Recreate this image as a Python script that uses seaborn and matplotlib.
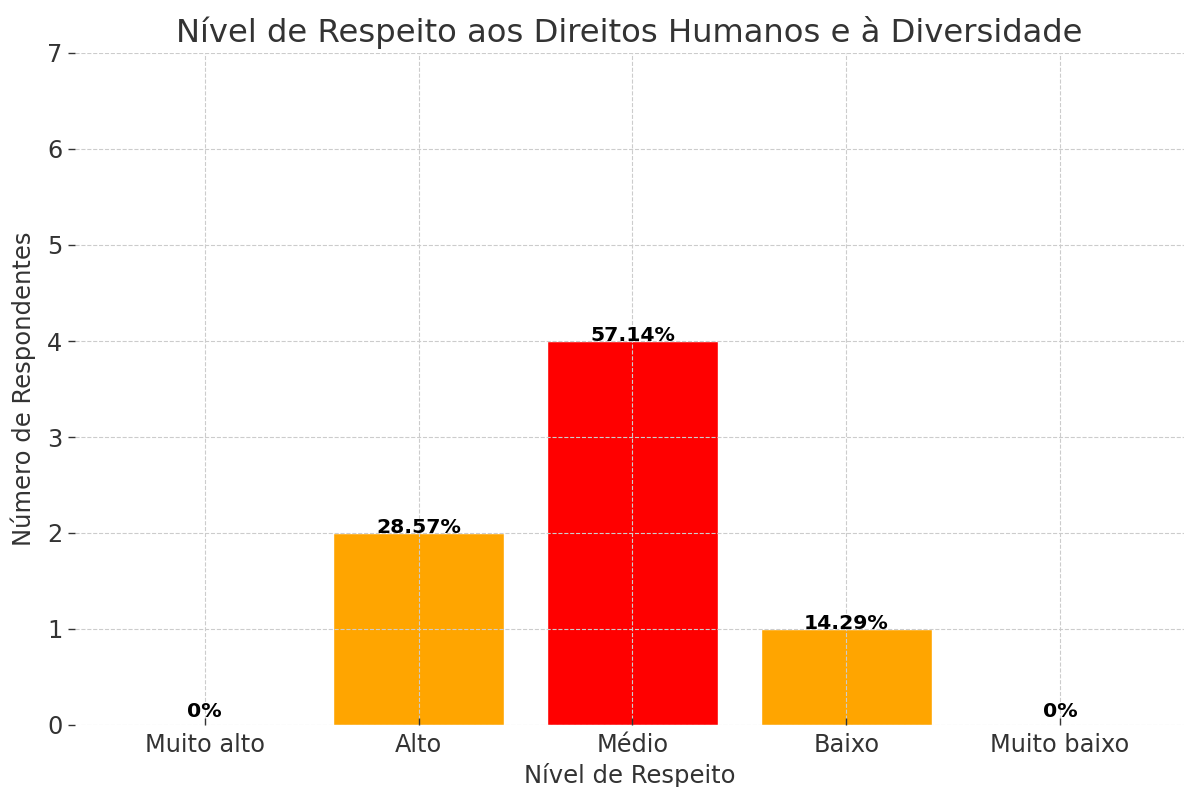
import matplotlib
matplotlib.use("Agg")
import matplotlib.pyplot as plt
import seaborn as sns
import pandas as pd

categories = ["Muito alto", "Alto", "Médio", "Baixo", "Muito baixo"]
counts = [0, 2, 4, 1, 0]
percent_labels = ["0%", "28.57%", "57.14%", "14.29%", "0%"]
bar_colors = ["#008000", "#FFA500", "#FF0000", "#FFA500", "#8B0000"]

sns.set_theme(style="white")
plt.rcParams["font.family"] = ["DejaVu Sans"]

df = pd.DataFrame({"cat": categories, "n": counts})

fig = plt.figure(figsize=(11.84, 7.87), dpi=100)
ax = fig.add_axes([75 / 1184, 1 - 725 / 787, 1 - 75 / 1184, (725 - 53) / 787])

sns.barplot(data=df, x="cat", y="n", hue="cat", palette=dict(zip(categories, bar_colors)),
            order=categories, hue_order=categories, width=0.8, saturation=1,
            legend=False, ax=ax)

ax.set_xlim(-0.607, 4.58)
ax.set_ylim(0, 7)
ax.set_yticks(range(0, 8))

for i, (v, lab) in enumerate(zip(counts, percent_labels)):
    y = v if v > 0 else 0.08
    ax.text(i, y, lab, ha="center", va="baseline", fontsize=14.7,
            fontweight="bold", color="black")

ax.set_axisbelow(False)
ax.grid(True, linestyle="--", color="#cccccc", linewidth=0.8)
for s in ax.spines.values():
    s.set_visible(False)

ax.tick_params(axis="x", direction="in", length=5, width=1, color="#333333",
               labelsize=17.3, labelcolor="#333333", pad=6, bottom=True)
ax.tick_params(axis="y", direction="out", length=5, width=1, color="#333333",
               labelsize=17.3, labelcolor="#333333", left=True, pad=4)

ax.set_title("Nível de Respeito aos Direitos Humanos e à Diversidade",
             fontsize=23.2, color="#333333", pad=8)
ax.set_xlabel("Nível de Respeito", fontsize=17.5, color="#333333", labelpad=4)
ax.set_ylabel("Número de Respondentes", fontsize=17.5, color="#333333", labelpad=8)

fig.savefig("out.png", dpi=100)
